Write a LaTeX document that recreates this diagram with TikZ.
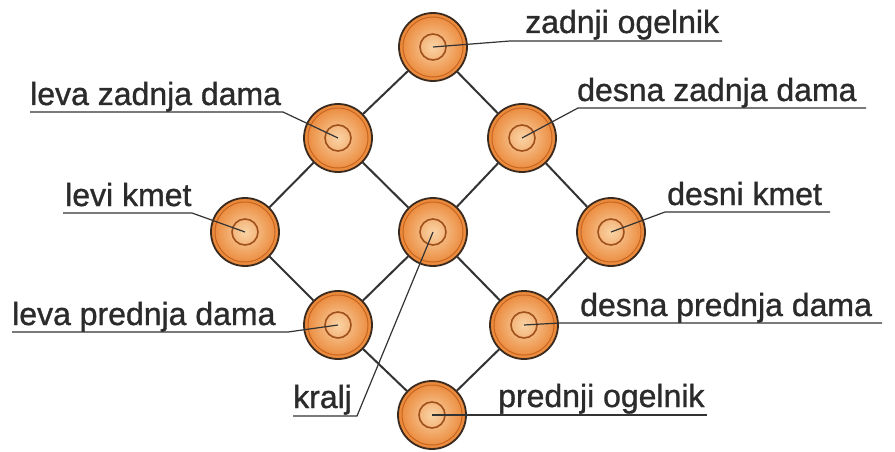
\documentclass[tikz,border=0pt]{standalone}
\usepackage{fontspec}
\setmainfont{Liberation Sans}
\newfontfamily\lblfont{Liberation Sans}[FakeBold=1]
\definecolor{ballout}{HTML}{EA8535}
\definecolor{ballin}{HTML}{FAD3A5}
\definecolor{ballline}{HTML}{3B2A1E}
\definecolor{ringcol}{HTML}{C8651F}
\definecolor{innercol}{HTML}{A0501C}
\definecolor{edgecol}{HTML}{333333}
\definecolor{txtcol}{HTML}{2B2B2B}
\begin{document}
\begin{tikzpicture}[x=1pt,y=-1pt,
  ball/.style={circle,minimum size=68pt,inner sep=0pt,draw=ballline,line width=1.8pt,inner color=ballin,outer color=ballout},
  edge/.style={draw=edgecol,line width=2pt},
  leader/.style={draw=edgecol,line width=1.2pt},
  ringline/.style={draw=ringcol,line width=1pt},
  innerline/.style={draw=innercol,line width=1.6pt},
  lbl/.style={anchor=base west,inner sep=0pt,text=txtcol,font=\lblfont\fontsize{32}{36}\selectfont}]
\path[use as bounding box,fill=white] (0,0) rectangle (895,452);

% balls
\node[ball] (T)   at (433,47)  {};
\node[ball] (LZD) at (338,138) {};
\node[ball] (DZD) at (522,138) {};
\node[ball] (LK)  at (245,232) {};
\node[ball] (K)   at (433,232) {};
\node[ball] (DK)  at (611,232) {};
\node[ball] (LPD) at (338,325) {};
\node[ball] (DPD) at (524,325) {};
\node[ball] (P)   at (432,415) {};

\foreach \n in {T,LZD,DZD,LK,K,DK,LPD,DPD,P}{
  \draw[ringline] (\n.center) circle (30pt);
  \draw[innerline] (\n.center) circle (13pt);
}

% edges
\draw[edge] (T) -- (LZD);
\draw[edge] (T) -- (DZD);
\draw[edge] (LZD) -- (LK);
\draw[edge] (LZD) -- (K);
\draw[edge] (DZD) -- (K);
\draw[edge] (DZD) -- (DK);
\draw[edge] (LK) -- (LPD);
\draw[edge] (K) -- (LPD);
\draw[edge] (K) -- (DPD);
\draw[edge] (DK) -- (DPD);
\draw[edge] (LPD) -- (P);
\draw[edge] (DPD) -- (P);

% labels
\node[lbl] (tT)   at (525,33)  {zadnji ogelnik};
\node[lbl] (tLZD) at (30,105)  {leva zadnja dama};
\node[lbl] (tDZD) at (577,101) {desna zadnja dama};
\node[lbl] (tLK)  at (65,206)  {levi kmet};
\node[lbl] (tDK)  at (667,205) {desni kmet};
\node[lbl] (tLPD) at (12,325)  {leva prednja dama};
\node[lbl] (tDPD) at (580,316) {desna prednja dama};
\node[lbl] (tK)   at (293,408) {kralj};
\node[lbl] (tP)   at (498,407) {prednji ogelnik};

% underline coordinates
\coordinate (uT1) at (510,41);   \coordinate (uT2) at (722,41);
\coordinate (uLZD1) at (283,112); \coordinate (uLZD2) at (30,112);
\coordinate (uDZD1) at (578,108); \coordinate (uDZD2) at (866,108);
\coordinate (uLK1) at (192,213); \coordinate (uLK2) at (63,213);
\coordinate (uDK1) at (665,212); \coordinate (uDK2) at (830,212);
\coordinate (uLPD1) at (288,332); \coordinate (uLPD2) at (12,332);
\coordinate (uDPD1) at (560,323); \coordinate (uDPD2) at (882,323);
\coordinate (uK1) at (357,416); \coordinate (uK2) at (293,416);
\coordinate (uP2) at (707,415);

% leaders
\draw[leader] (T.center) -- (uT1) -- (uT2);
\draw[leader] (LZD.center) -- (uLZD1) -- (uLZD2);
\draw[leader] (DZD.center) -- (uDZD1) -- (uDZD2);
\draw[leader] (LK.center) -- (uLK1) -- (uLK2);
\draw[leader] (DK.center) -- (uDK1) -- (uDK2);
\draw[leader] (LPD.center) -- (uLPD1) -- (uLPD2);
\draw[leader] (DPD.center) -- (uDPD1) -- (uDPD2);
\draw[leader] (K.center) -- (uK1) -- (uK2);
\draw[leader] (P.center) -- (uP2);
\end{tikzpicture}
\end{document}
